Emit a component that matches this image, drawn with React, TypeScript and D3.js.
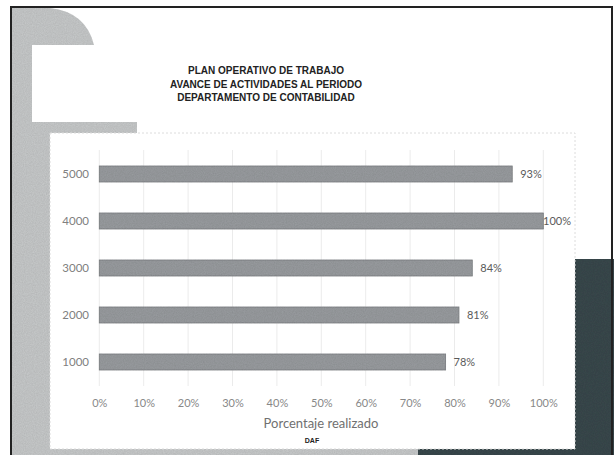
import { useRef, useEffect } from "react";
import * as d3 from "d3";

const titleLines = [
  "PLAN OPERATIVO DE TRABAJO",
  "AVANCE DE ACTIVIDADES AL PERIODO",
  "DEPARTAMENTO DE CONTABILIDAD",
];
const categories = ["5000", "4000", "3000", "2000", "1000"];
const values = [0.93, 1.0, 0.84, 0.81, 0.78];
const xTickValues = [0, 0.1, 0.2, 0.3, 0.4, 0.5, 0.6, 0.7, 0.8, 0.9, 1.0];
const xTitle = "Porcentaje realizado";
const footer = "DAF";

const W = 614;
const H = 455;
const FONT = "Lato, 'Open Sans', sans-serif";

export default function App() {
  const svgRef = useRef<SVGSVGElement>(null);

  useEffect(() => {
    if (!svgRef.current) return;
    const svg = d3.select(svgRef.current);
    svg.selectAll("*").remove();

    // grain filter to mimic the scan
    const defs = svg.append("defs");
    const f = defs.append("filter").attr("id", "grain");
    f.append("feTurbulence")
      .attr("type", "fractalNoise")
      .attr("baseFrequency", 0.9)
      .attr("numOctaves", 2)
      .attr("result", "n");
    f.append("feColorMatrix")
      .attr("in", "n")
      .attr("type", "matrix")
      .attr("values", "0 0 0 0 0  0 0 0 0 0  0 0 0 0 0  0 0 0 0.22 0")
      .attr("result", "a");
    f.append("feComposite").attr("in", "a").attr("in2", "SourceGraphic").attr("operator", "in").attr("result", "b");
    const fm = f.append("feMerge");
    fm.append("feMergeNode").attr("in", "SourceGraphic");
    fm.append("feMergeNode").attr("in", "b");

    // slide background
    svg.append("rect").attr("width", W).attr("height", H).attr("fill", "#fff");
    const deco = svg.append("g").attr("filter", "url(#grain)");
    const lightGray = "#c8cacb";
    deco.append("rect").attr("x", 12).attr("y", 8).attr("width", 20).attr("height", H).attr("fill", lightGray);
    deco.append("rect").attr("x", 12).attr("y", 133).attr("width", 38).attr("height", H).attr("fill", lightGray);
    deco.append("path")
      .attr("d", "M12,8 L50,8 Q86,12 94,45 L12,45 Z")
      .attr("fill", lightGray);
    deco.append("rect").attr("x", 12).attr("y", 122).attr("width", 125).attr("height", 12).attr("fill", lightGray);
    deco.append("rect").attr("x", 12).attr("y", 448).attr("width", 410).attr("height", 10).attr("fill", lightGray);
    deco.append("rect").attr("x", 575).attr("y", 259).attr("width", 40).attr("height", 200).attr("fill", "#3a484d");
    deco.append("rect").attr("x", 418).attr("y", 449).attr("width", 160).attr("height", 10).attr("fill", "#3a484d");

    // frame
    svg.append("rect")
      .attr("x", 11).attr("y", 7).attr("width", 601).attr("height", H + 10)
      .attr("fill", "none").attr("stroke", "#222").attr("stroke-width", 2);

    // title
    svg.append("text")
      .attr("x", 266).attr("y", 74)
      .attr("text-anchor", "middle")
      .style("font-family", "'Liberation Sans', Arial, sans-serif")
      .style("font-size", "10px")
      .style("font-weight", "bold")
      .style("fill", "#222")
      .selectAll("tspan")
      .data(titleLines)
      .join("tspan")
      .attr("x", 266)
      .attr("dy", (_, i) => (i === 0 ? 0 : 13.5))
      .text((d) => d);

    // chart card
    svg.append("rect")
      .attr("x", 50).attr("y", 133).attr("width", 525).attr("height", 316)
      .attr("fill", "#fff").attr("stroke", "#dcdcdc").attr("stroke-width", 1)
      .attr("stroke-dasharray", "2,2");

    const x = d3.scaleLinear().domain([0, 1]).range([99.3, 543.3]);
    const y = d3.scaleBand<string>()
      .domain(categories)
      .range([150.5, 385.5])
      .paddingInner(0.66)
      .paddingOuter(0.33);

    // grid
    svg.append("g")
      .selectAll("line")
      .data(xTickValues)
      .join("line")
      .attr("x1", (d) => x(d)).attr("x2", (d) => x(d))
      .attr("y1", 150).attr("y2", 386)
      .attr("stroke", "#e6e6e6").attr("stroke-width", 0.8);

    // x axis
    const xAxis = svg.append("g")
      .attr("transform", "translate(0,396)")
      .call(d3.axisBottom(x).tickValues(xTickValues).tickSize(0).tickFormat(d3.format(".0%")));
    xAxis.select(".domain").remove();
    xAxis.selectAll("text")
      .style("font-family", FONT).style("font-size", "11px").style("fill", "#888");

    // y axis
    const yAxis = svg.append("g")
      .attr("transform", "translate(89,0)")
      .call(d3.axisLeft(y).tickSize(0).tickPadding(0));
    yAxis.select(".domain").remove();
    yAxis.selectAll("text")
      .style("font-family", FONT).style("font-size", "11.5px").style("fill", "#808080");

    const rows = categories.map((c, i) => ({ c, v: values[i] }));

    // data labels (drawn before bars, bar clips over the 100% label as in source)
    const labels = svg.append("g")
      .selectAll("text")
      .data(rows)
      .join("text")
      .attr("y", (d) => (y(d.c) ?? 0) + y.bandwidth() / 2)
      .attr("dy", "0.35em")
      .style("font-family", FONT).style("font-size", "11px").style("fill", "#5a5a5a")
      .text((d) => d3.format(".0%")(d.v));
    labels.each(function (d) {
      const el = this as SVGTextElement;
      const w = el.getComputedTextLength();
      el.setAttribute("x", String(Math.min(x(d.v) + 8, 571 - w)));
    });

    // bars
    svg.append("g")
      .attr("filter", "url(#grain)")
      .selectAll("rect")
      .data(rows)
      .join("rect")
      .attr("x", x(0))
      .attr("y", (d) => y(d.c) ?? 0)
      .attr("width", (d) => x(d.v) - x(0))
      .attr("height", y.bandwidth())
      .attr("fill", "#9a9da0")
      .attr("stroke", "#7e8184")
      .attr("stroke-width", 0.8);

    // axis title and footer
    svg.append("text")
      .attr("x", 321).attr("y", 428)
      .attr("text-anchor", "middle")
      .style("font-family", FONT).style("font-size", "13px").style("fill", "#707070")
      .text(xTitle);
    svg.append("text")
      .attr("x", 312).attr("y", 443)
      .attr("text-anchor", "middle")
      .style("font-family", "'Liberation Sans', Arial, sans-serif")
      .style("font-size", "7px").style("font-weight", "bold").style("fill", "#222")
      .text(footer);

    return () => {
      svg.selectAll("*").remove();
    };
  }, []);

  return (
    <svg
      ref={svgRef}
      width={W}
      height={H}
      style={{ position: "absolute", left: 0, top: 0, display: "block" }}
    />
  );
}
